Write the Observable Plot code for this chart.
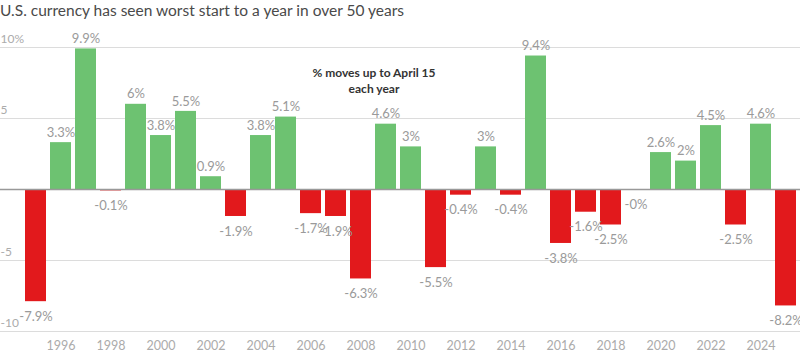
<!DOCTYPE html>
<html><head><meta charset="utf-8">
<script src="https://cdn.jsdelivr.net/npm/d3@7"></script>
<script src="https://cdn.jsdelivr.net/npm/@observablehq/plot@0.6"></script>
<style>
body{margin:0;background:#fff;font-family:Lato,"Open Sans",sans-serif;overflow:hidden;width:800px;height:359px}
#title{font-size:15.5px;color:#4a4a4a;height:20px;line-height:20px;white-space:nowrap;padding-left:0}
#chart svg{display:block;overflow:visible}
</style></head><body>
<div id="title">U.S. currency has seen worst start to a year in over 50 years</div>
<div id="chart"></div>
<script>
const years = [1995,1996,1997,1998,1999,2000,2001,2002,2003,2004,2005,2006,2007,2008,2009,2010,
  2011,2012,2013,2014,2015,2016,2017,2018,2019,2020,2021,2022,2023,2024,2025];
const moves = [-7.9,3.3,9.9,-0.1,6,3.8,5.5,0.9,-1.9,3.8,5.1,-1.7,-1.9,-6.3,4.6,3,
  -5.5,-0.4,3,-0.4,9.4,-3.8,-1.6,-2.5,-0.02,2.6,2,4.5,-2.5,4.6,-8.2];
const valueLabels = ["-7.9%","3.3%","9.9%","-0.1%","6%","3.8%","5.5%","0.9%","-1.9%","3.8%","5.1%","-1.7%","-1.9%","-6.3%","4.6%","3%",
  "-5.5%","-0.4%","3%","-0.4%","9.4%","-3.8%","-1.6%","-2.5%","-0%","2.6%","2%","4.5%","-2.5%","4.6%","-8.2%"];
const xTickYears = [1996,1998,2000,2002,2004,2006,2008,2010,2012,2014,2016,2018,2020,2022,2024];
const yTicks = [10,5,-5,-10];
const yTickLabels = ["10%","5","-5","-10"];
const noteText = "% moves up to April 15\neach year";

const data = years.map((y,i)=>({year:y, v:moves[i], label:valueLabels[i]}));
const pos = data.filter(d=>d.v>=0), neg = data.filter(d=>d.v<0);
const yt = yTicks.map((t,i)=>({t, label:yTickLabels[i]}));

const plot = Plot.plot({
  width: 800, height: 339,
  marginLeft: 0, marginRight: 0, marginTop: 0, marginBottom: 0,
  style: {fontFamily: "Lato, 'Open Sans', sans-serif", background: "#fff", overflow: "visible"},
  x: {type: "band", domain: years, range: [20, 801], padding: 0.16, axis: null},
  y: {domain: [-10, 10], range: [311, 27], axis: null},
  marks: [
    Plot.ruleY(yTicks, {stroke: "#dcdcdc", strokeWidth: 1}),
    Plot.text(yt, {y: "t", text: "label", frameAnchor: "left", textAnchor: "start", dy: -8, fill: "#ababab", fontSize: 12}),
    Plot.barY(data, {x: "year", y: "v", fill: d => d.v >= 0 ? "#6dc271" : "#e2191c"}),
    Plot.ruleY([0], {stroke: "#999", strokeWidth: 1.5}),
    Plot.text(pos, {x: "year", y: "v", text: "label", dy: -10, fill: "#9a9a9a", fontSize: 13}),
    Plot.text(neg, {x: "year", y: "v", text: "label", dy: 15, fill: "#9a9a9a", fontSize: 13}),
    Plot.text(xTickYears, {x: d => d, y: -10, text: d => String(d), dy: 14, fill: "#ababab", fontSize: 12.5}),
    Plot.text([noteText], {x: 2008, y: 7.75, text: d => d, dx: 13, fill: "#333", fontSize: 12, fontWeight: "bold", lineHeight: 1.35})
  ]
});
document.getElementById("chart").appendChild(plot);
</script>
</body></html>
